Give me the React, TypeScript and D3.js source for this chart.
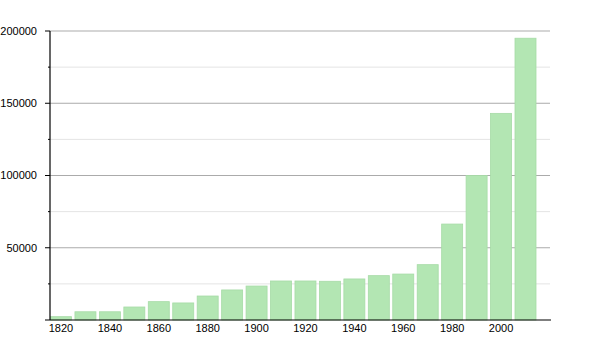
import React from "react";
import * as d3 from "d3";

const years = [1820, 1830, 1840, 1850, 1860, 1870, 1880, 1890, 1900, 1910, 1920, 1930, 1940, 1950, 1960, 1970, 1980, 1990, 2000, 2010];
const population = [2300, 5700, 5700, 9000, 12700, 11800, 16600, 20800, 23500, 27000, 27000, 26800, 28400, 30700, 31800, 38300, 66400, 100000, 143000, 195000];
const majorTicks = [50000, 100000, 150000, 200000];
const minorTicks = [25000, 75000, 125000, 175000];
const xTickLabels = [1820, 1840, 1860, 1880, 1900, 1920, 1940, 1960, 1980, 2000];

export default function App() {
  const width = 600;
  const height = 350;
  const left = 50;
  const right = 550;
  const top = 31;
  const bottom = 320;
  const y = d3.scaleLinear().domain([0, 200000]).range([bottom, top]);
  const x = d3.scaleLinear().domain([1820, 2010]).range([61, 525.5]);
  const barW = 21;
  const font = "'Liberation Sans', Arial, sans-serif";

  return (
    <svg width={width} height={height} style={{ position: "absolute", left: 0, top: 0, background: "#fff" }}>
      {minorTicks.map((t) => (
        <g key={"mi" + t}>
          <line x1={left} x2={right} y1={y(t)} y2={y(t)} stroke="#e4e4e4" strokeWidth={1} />
          <line x1={left - 2} x2={left} y1={y(t)} y2={y(t)} stroke="#000" strokeWidth={1} />
        </g>
      ))}
      {majorTicks.map((t) => (
        <g key={"ma" + t}>
          <line x1={left} x2={right} y1={y(t)} y2={y(t)} stroke="#ababab" strokeWidth={1} />
          <line x1={left - 5} x2={left} y1={y(t)} y2={y(t)} stroke="#000" strokeWidth={1} />
          <text x={37} y={y(t)} dy="0.35em" textAnchor="end" fontFamily={font} fontSize={11} fill="#000">
            {t}
          </text>
        </g>
      ))}
      {years.map((yr, i) => (
        <rect
          key={yr}
          x={x(yr) - barW / 2}
          y={y(population[i])}
          width={barW}
          height={bottom - y(population[i])}
          fill="#b3e6b3"
          stroke="#a6dba6"
          strokeWidth={0.8}
        />
      ))}
      <line x1={left} x2={left} y1={top} y2={bottom} stroke="#000" strokeWidth={1.2} />
      <line x1={left - 5} x2={right + 1} y1={bottom} y2={bottom} stroke="#000" strokeWidth={1.2} />
      {xTickLabels.map((t) => (
        <text key={"x" + t} x={x(t)} y={332} textAnchor="middle" fontFamily={font} fontSize={11} fill="#000">
          {t}
        </text>
      ))}
    </svg>
  );
}
